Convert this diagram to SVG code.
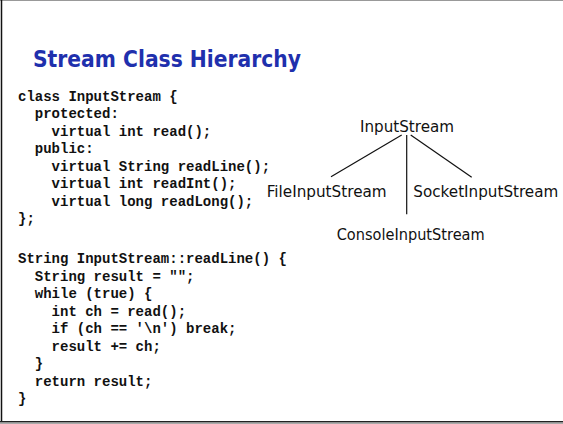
<svg xmlns="http://www.w3.org/2000/svg" width="563" height="424" viewBox="0 0 563 424">
<style>
.code{font-family:"Liberation Mono","Courier New",monospace;font-weight:bold;font-size:14px;fill:#111;white-space:pre}
.lbl{font-family:"DejaVu Sans","Comic Sans MS",sans-serif;font-size:15px;fill:#111}
.title{font-family:"DejaVu Sans","Comic Sans MS",sans-serif;font-weight:bold;font-size:23px;fill:#1f30ad}
.conn{stroke:#111;stroke-width:1.2;fill:none}
</style>
<rect width="563" height="424" fill="#fff"/>
<line x1="0" y1="0.5" x2="563" y2="0.5" stroke="#999" stroke-width="1"/>
<line x1="1.5" y1="0" x2="1.5" y2="422" stroke="#111" stroke-width="1.5"/>
<line x1="0" y1="421.8" x2="563" y2="421.8" stroke="#222" stroke-width="1.5"/>
<line x1="0" y1="423.5" x2="563" y2="423.5" stroke="#aaa" stroke-width="1"/>
<text class="title" x="33" y="66.7" textLength="268" lengthAdjust="spacingAndGlyphs">Stream Class Hierarchy</text>
<g id="code-class">
<text class="code" x="18" y="100.5">class InputStream {</text>
<text class="code" x="18" y="118">  protected:</text>
<text class="code" x="18" y="135.5">    virtual int read();</text>
<text class="code" x="18" y="153">  public:</text>
<text class="code" x="18" y="170.5">    virtual String readLine();</text>
<text class="code" x="18" y="188">    virtual int readInt();</text>
<text class="code" x="18" y="205.5">    virtual long readLong();</text>
<text class="code" x="18" y="223">};</text>
</g>
<g id="code-readline">
<text class="code" x="18" y="263">String InputStream::readLine() {</text>
<text class="code" x="18" y="280.5">  String result = "";</text>
<text class="code" x="18" y="298">  while (true) {</text>
<text class="code" x="18" y="315.5">    int ch = read();</text>
<text class="code" x="18" y="333">    if (ch == '\n') break;</text>
<text class="code" x="18" y="350.5">    result += ch;</text>
<text class="code" x="18" y="368">  }</text>
<text class="code" x="18" y="385.5">  return result;</text>
<text class="code" x="18" y="403">}</text>
</g>
<g id="connectors">
<line class="conn" x1="401.7" y1="135" x2="331" y2="176.7"/>
<line class="conn" x1="406.7" y1="135" x2="406.7" y2="214.3"/>
<line class="conn" x1="410.7" y1="135" x2="471.7" y2="177.3"/>
</g>
<g id="node-inputstream"><text class="lbl" x="360" y="131.7" textLength="94" lengthAdjust="spacingAndGlyphs">InputStream</text></g>
<g id="node-fileinputstream"><text class="lbl" x="266.7" y="196.7" textLength="120" lengthAdjust="spacingAndGlyphs">FileInputStream</text></g>
<g id="node-socketinputstream"><text class="lbl" x="413.3" y="196.7" textLength="145" lengthAdjust="spacingAndGlyphs">SocketInputStream</text></g>
<g id="node-consoleinputstream"><text class="lbl" x="336.7" y="240" textLength="148" lengthAdjust="spacingAndGlyphs">ConsoleInputStream</text></g>
</svg>
